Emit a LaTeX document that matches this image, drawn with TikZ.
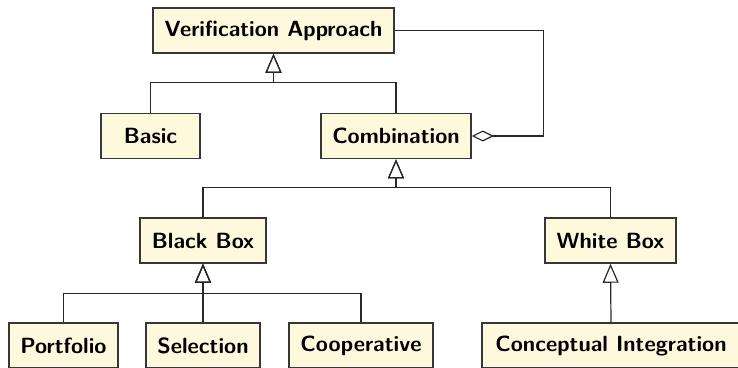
\documentclass[tikz,border=0pt]{standalone}
\usetikzlibrary{arrows.meta}
\definecolor{boxfill}{RGB}{254,249,221}
\definecolor{boxline}{RGB}{55,55,55}
\definecolor{conline}{RGB}{40,40,40}
\tikzset{
  cls/.style={draw=boxline, line width=1.5pt, fill=boxfill, inner sep=0pt,
    minimum height=45pt, font=\fontsize{22}{26}\sffamily\bfseries, text=black},
  gen/.style={draw=conline, line width=1.2pt, -{Triangle[open, length=19pt, width=16pt, line width=1.2pt]}},
  agg/.style={draw=conline, line width=1.2pt, {Diamond[open, length=22pt, width=11pt, line width=1.2pt]}-},
}
\begin{document}
\begin{tikzpicture}[x=1pt, y=-1pt]
\useasboundingbox (0,0) rectangle (738,367);
\node[cls, minimum width=241pt] (va) at (273.5,30.5) {Verification Approach};
\node[cls, minimum width=99pt] (basic) at (150.5,136) {Basic};
\node[cls, minimum width=150pt] (comb) at (396,136) {Combination};
\node[cls, minimum width=126pt] (bb) at (203,240.5) {Black Box};
\node[cls, minimum width=131pt] (wb) at (610.5,240.5) {White Box};
\node[cls, minimum width=109pt] (port) at (63.5,345.5) {Portfolio};
\node[cls, minimum width=114pt] (sel) at (203,345.5) {Selection};
\node[cls, minimum width=144pt] (coop) at (361,345.5) {Cooperative};
\node[cls, minimum width=258pt] (ci) at (611,345.5) {Conceptual Integration};
\draw[gen] (basic.north) -- ++(0,-30) -| (va.south);
\draw[gen] (comb.north) -- ++(0,-30) -| (va.south);
\draw[gen] (bb.north) -- ++(0,-30) -| (comb.south);
\draw[gen] (wb.north) -- ++(0,-30) -| (comb.south);
\draw[gen] (port.north) -- ++(0,-29) -| (bb.south);
\draw[gen] (sel.north) -- (bb.south);
\draw[gen] (coop.north) -- ++(0,-29) -| (bb.south);
\draw[gen] (ci.north) -- (wb.south);
\draw[agg] (comb.east) -- ++(72,0) |- (va.east);
\end{tikzpicture}
\end{document}
